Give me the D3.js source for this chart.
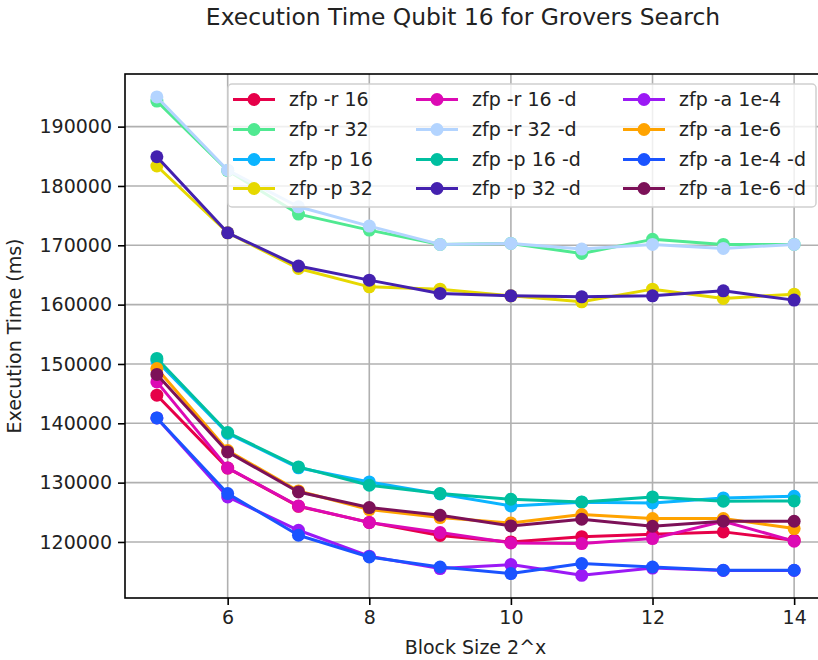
<!DOCTYPE html>
<html>
<head>
<meta charset="utf-8">
<script src="https://cdn.jsdelivr.net/npm/d3@7"></script>
<style>
  html, body { margin: 0; padding: 0; background: #fff; }
  svg { display: block; font-family: "DejaVu Sans", sans-serif; }
</style>
</head>
<body>
<svg id="chart" width="818" height="660"></svg>
<script>
// Block size exponents (2^x)
const blockSizes = [5, 6, 7, 8, 9, 10, 11, 12, 13, 14];

// Execution time in ms per zfp configuration
const seriesNames = [
  "zfp -r 16", "zfp -r 32", "zfp -p 16", "zfp -p 32",
  "zfp -r 16 -d", "zfp -r 32 -d", "zfp -p 16 -d", "zfp -p 32 -d",
  "zfp -a 1e-4", "zfp -a 1e-6", "zfp -a 1e-4 -d", "zfp -a 1e-6 -d"
];
const r16   = [144740, 132450, 126000, 123300, 121100, 120000, 120900, 121300, 121700, 120300];
const r32   = [194300, 182600, 175260, 172560, 170150, 170320, 168630, 171000, 170150, 170150];
const p16   = [150500, 138300, 132500, 130120, 128100, 126070, 126700, 126580, 127420, 127710];
const p32   = [183360, 172110, 166100, 163000, 162610, 161490, 160470, 162610, 161040, 161770];
const r16d  = [146980, 132480, 126070, 123270, 121590, 119830, 119730, 120570, 123500, 120120];
const r32d  = [195000, 182660, 176490, 173240, 170150, 170320, 169360, 170150, 169480, 170150];
const p16d  = [150930, 138450, 132650, 129560, 128160, 127200, 126750, 127590, 126860, 126910];
const p32d  = [184920, 172110, 166500, 164130, 161890, 161490, 161320, 161490, 162330, 160760];
const a4    = [140900, 127590, 121970, 117600, 115510, 116190, 114380, 115600, 115200, 115200];
const a6    = [149240, 135400, 128600, 125460, 124110, 123200, 124620, 123950, 123950, 122260];
const a4d   = [140910, 128160, 121130, 117470, 115780, 114670, 116360, 115780, 115230, 115230];
const a6d   = [148230, 135180, 128430, 125800, 124500, 122700, 123830, 122650, 123490, 123490];
const seriesValues = [r16, r32, p16, p32, r16d, r32d, p16d, p32d, a4, a6, a4d, a6d];
const seriesColors = [
  "#e60049", "#50e991", "#0bb4ff", "#e6d800",
  "#dc0ab4", "#b3d4ff", "#00bfa0", "#4421af",
  "#9b19f5", "#ffa300", "#1a53ff", "#7c1158"
];

const xTicks = [6, 8, 10, 12, 14];
const yTicks = [120000, 130000, 140000, 150000, 160000, 170000, 180000, 190000];

const titleText = "Execution Time Qubit 16 for Grovers Search";
const xLabel = "Block Size 2^x";
const yLabel = "Execution Time (ms)";

const svg = d3.select("#chart");
const plot = { left: 125, right: 826, top: 74, bottom: 598 };

const x = d3.scaleLinear().domain([4.55, 14.45]).range([plot.left, plot.right]);
const y = d3.scaleLinear().domain([110557, 198870]).range([plot.bottom, plot.top]);

const fontSize = 19;

// grid
const grid = svg.append("g");
grid.selectAll("line.gx").data(xTicks).join("line")
  .attr("x1", d => x(d)).attr("x2", d => x(d))
  .attr("y1", plot.top).attr("y2", plot.bottom)
  .attr("stroke", "#b0b0b0").attr("stroke-width", 1.6);
grid.selectAll("line.gy").data(yTicks).join("line")
  .attr("x1", plot.left).attr("x2", plot.right)
  .attr("y1", d => y(d)).attr("y2", d => y(d))
  .attr("stroke", "#b0b0b0").attr("stroke-width", 1.6);

// series: one polyline with circle markers each
const line = d3.line().x((d, i) => x(blockSizes[i])).y(d => y(d));
seriesValues.forEach((vals, k) => {
  const g = svg.append("g");
  g.append("path").datum(vals)
    .attr("d", line)
    .attr("fill", "none")
    .attr("stroke", seriesColors[k])
    .attr("stroke-width", 3)
    .attr("stroke-linejoin", "round");
  g.selectAll("circle").data(vals).join("circle")
    .attr("cx", (d, i) => x(blockSizes[i]))
    .attr("cy", d => y(d))
    .attr("r", 6.5)
    .attr("fill", seriesColors[k]);
});

// axes
const xAxis = d3.axisBottom(x).tickValues(xTicks).tickSize(7).tickPadding(6).tickFormat(d3.format("d"));
const yAxis = d3.axisLeft(y).tickValues(yTicks).tickSize(7).tickPadding(6).tickFormat(d3.format("d"));

const gx = svg.append("g").attr("transform", `translate(0,${plot.bottom})`).call(xAxis);
const gy = svg.append("g").attr("transform", `translate(${plot.left},0)`).call(yAxis);
[gx, gy].forEach(g => {
  g.select(".domain").remove();
  g.selectAll(".tick line").attr("stroke", "#000").attr("stroke-width", 1.6);
  g.selectAll(".tick text").attr("fill", "#222").style("font-size", fontSize + "px")
    .style("font-family", "DejaVu Sans");
});

// frame
svg.append("rect")
  .attr("x", plot.left).attr("y", plot.top)
  .attr("width", plot.right - plot.left).attr("height", plot.bottom - plot.top)
  .attr("fill", "none").attr("stroke", "#000").attr("stroke-width", 1.6);

// titles
svg.append("text").attr("x", 463).attr("y", 25)
  .attr("text-anchor", "middle").style("font-size", "23.4px").attr("fill", "#222")
  .text(titleText);
svg.append("text").attr("x", x(9.5)).attr("y", 654)
  .attr("text-anchor", "middle").style("font-size", fontSize + "px").attr("fill", "#222")
  .text(xLabel);
svg.append("text")
  .attr("transform", `translate(21,${(plot.top + plot.bottom) / 2}) rotate(-90)`)
  .attr("text-anchor", "middle").style("font-size", fontSize + "px").attr("fill", "#222")
  .text(yLabel);

// legend
const legend = svg.append("g");
legend.append("rect")
  .attr("x", 228).attr("y", 84).attr("width", 588).attr("height", 123)
  .attr("rx", 4).attr("fill", "rgba(255,255,255,0.8)")
  .attr("stroke", "#d0d0d0").attr("stroke-width", 1.5);
const colHandle = [233, 416, 623];
const rowY = [99.5, 129.5, 159.5, 188.5];
seriesNames.forEach((name, k) => {
  const col = Math.floor(k / 4), row = k % 4;
  const hx = colHandle[col], hy = rowY[row];
  const item = legend.append("g");
  item.append("line").attr("x1", hx).attr("x2", hx + 42).attr("y1", hy).attr("y2", hy)
    .attr("stroke", seriesColors[k]).attr("stroke-width", 3);
  item.append("circle").attr("cx", hx + 21).attr("cy", hy).attr("r", 6.5).attr("fill", seriesColors[k]);
  item.append("text").attr("x", hx + 56).attr("y", hy).attr("dy", "0.36em")
    .style("font-size", fontSize + "px").attr("fill", "#222").text(name);
});
</script>
</body>
</html>
